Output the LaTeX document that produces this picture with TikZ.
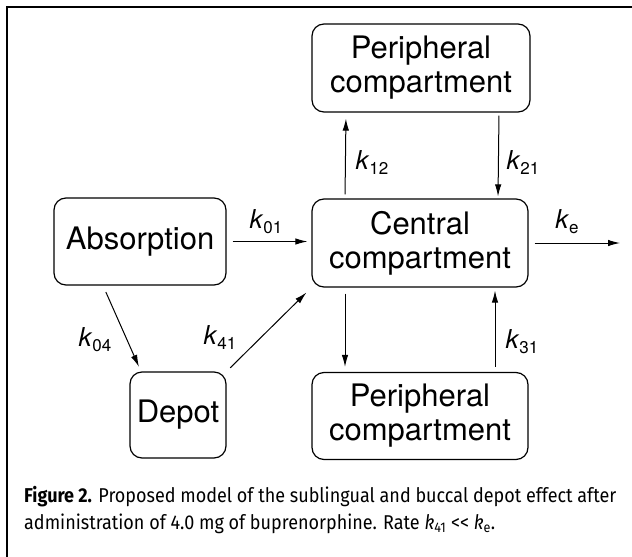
\documentclass[tikz,border=0pt]{standalone}
\usepackage{fontspec}
\setmainfont{TeX Gyre Heros}
\newfontfamily\capfont[FakeStretch=0.9]{Fira Sans}
\usetikzlibrary{arrows.meta}

% rate constant: italic k with lowered index
\newcommand{\rate}[1]{\textit{k}\raisebox{-5pt}{\fontsize{17}{17}\selectfont #1}}

\begin{document}
\begin{tikzpicture}[
        x=1pt, y=-1pt,
        box/.style={draw, rounded corners=12pt, line width=1.2pt, align=center, inner sep=0pt,
            minimum width=216pt, minimum height=87pt, font=\fontsize{31}{34}\selectfont}, % compartments
        flow/.style={-{Latex[length=12pt,width=6.5pt]}, line width=1pt}, % transfer arrows
        rate/.style={font=\fontsize{26}{26}\selectfont, inner sep=0pt}
    ]
    \useasboundingbox (0,0) rectangle (632,557);
    \draw[line width=1.4pt] (7,557) -- (7,7) -- (632,7);

    \node[box, minimum width=218pt, minimum height=88pt] (periph1) at (421,68) {Peripheral\\compartment};
    \node[box, minimum height=88pt] (central) at (420,243) {Central\\compartment};
    \node[box] (periph2) at (420,416) {Peripheral\\compartment};
    \node[box, minimum width=172pt] (absorption) at (140,241.5) {Absorption};
    \node[box, minimum width=96pt, minimum height=86pt] (depot) at (178,415) {Depot};
    \coordinate (out) at (620,243);

    % arrows
    \draw[flow, shorten <=6pt, shorten >=4pt] (absorption.east) -- (absorption.east -| central.west);
    \draw[flow, shorten <=6pt] (central.east |- out) -- (out);
    \draw[flow, shorten <=4pt, shorten >=6pt] ([xshift=-75pt]central.north) -- ([xshift=-75pt]periph1.south);
    \draw[flow, shorten <=3pt, shorten >=2pt] ([xshift=78pt]periph1.south) -- ([xshift=78pt]central.north);
    \draw[flow, shorten <=6pt, shorten >=5pt] ([xshift=-75pt]central.south) -- ([xshift=-75pt]periph2.north);
    \draw[flow, shorten <=5pt, shorten >=3pt] ([xshift=75pt]periph2.north) -- ([xshift=75pt]central.south);
    \draw[flow, shorten <=7pt, shorten >=5pt] ([xshift=-37pt]absorption.south) -- ([xshift=-37pt]depot.north);
    \draw[flow, shorten <=5pt, shorten >=7pt] (depot.north east) -- (central.south west);

    % labels
    \node[rate] (k01) at (266,222) {\rate{01}};
    \node[rate] (ke) at (567,222) {\rate{e}};
    \node[rate] (k12) at (372,163) {\rate{12}};
    \node[rate] (k21) at (523,163) {\rate{21}};
    \node[rate] (k04) at (95,340) {\rate{04}};
    \node[rate] (k41) at (220,338) {\rate{41}};
    \node[rate] (k31) at (522,342) {\rate{31}};

    \node[anchor=west, align=left, inner sep=0pt, font=\capfont\fontsize{20}{27}\selectfont] (caption) at (24,510)
        {\textbf{Figure 2.} Proposed model of the sublingual and buccal depot effect after\\
         administration of 4.0 mg of buprenorphine. Rate \textit{k}\textsubscript{41} <{}< \textit{k}\textsubscript{e}.};
\end{tikzpicture}
\end{document}
